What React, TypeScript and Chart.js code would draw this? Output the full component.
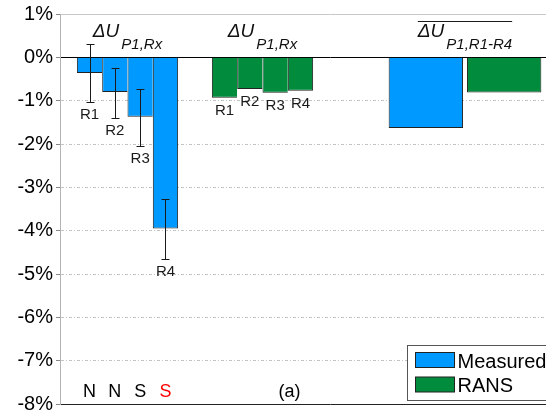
import React, { useEffect, useRef } from 'react';
import { Chart, registerables } from 'chart.js';

Chart.register(...registerables);

// ---- data ----
const groupLabels = ['', 'ΔU P1,Rx measured', '', 'ΔU P1,Rx RANS', '', '', 'ΔU P1,R1-R4 mean', '', ''];
const probeNames = ['R1', 'R2', 'R3', 'R4'];
const measured = [-0.36, -0.8, -1.37, -3.95];
const measuredErrHigh = [0.31, -0.24, -0.73, -3.26];
const measuredErrLow = [-1.03, -1.39, -2.04, -4.66];
const rans = [-0.93, -0.73, -0.82, -0.77];
const measuredMean = -1.63;
const ransMean = -0.81;
const flowLabels = ['N', 'N', 'S', 'S'];
const flowColors = ['#000000', '#000000', '#000000', '#ff0000'];
const groupTitles = [
  { idx: 1, main: 'ΔU', sub: 'P1,Rx', overline: false },
  { idx: 3, main: 'ΔU', sub: 'P1,Rx', overline: false },
  { idx: 6, main: 'ΔU', sub: 'P1,R1-R4', overline: true },
];
const legendItems = ['Measured', 'RANS'];
const Y_MIN = -8;
const Y_MAX = 1;
const Y_STEP = 1;

// ---- layout / style ----
const MEAS_IDX = 1;
const RANS_IDX = 3;
const MEAN_IDX = 6;
const PANEL_TAG_POS = 3.4;
const BLUE = '#0099ff';
const GREEN = '#008c3c';
const EDGE = '#222222';
const FONT = '"Liberation Sans", Arial, Helvetica, sans-serif';

const annotate = {
  id: 'annotate',
  afterDatasetsDraw(chart: any) {
    const { ctx, chartArea, scales } = chart;
    const x = scales.x;
    const y = scales.y;
    ctx.save();
    ctx.lineWidth = 1;
    ctx.strokeStyle = '#1a1a1a';
    ctx.textAlign = 'center';
    ctx.textBaseline = 'alphabetic';
    probeNames.forEach((name, i) => {
      const meta = chart.getDatasetMeta(i);
      const el = meta.data[MEAS_IDX];
      const cx = Math.round(el.x) + 0.5;
      const yh = Math.round(y.getPixelForValue(measuredErrHigh[i])) + 0.5;
      const yl = Math.round(y.getPixelForValue(measuredErrLow[i])) + 0.5;
      ctx.beginPath();
      ctx.moveTo(cx, yh);
      ctx.lineTo(cx, yl);
      ctx.moveTo(cx - 4, yh);
      ctx.lineTo(cx + 4, yh);
      ctx.moveTo(cx - 4, yl);
      ctx.lineTo(cx + 4, yl);
      ctx.stroke();
      ctx.fillStyle = '#1a1a1a';
      ctx.font = '15px ' + FONT;
      ctx.fillText(name, el.x, yl + 16);
      const er = meta.data[RANS_IDX];
      ctx.fillText(name, er.x, er.y + 17);
      ctx.font = '18px ' + FONT;
      ctx.fillStyle = flowColors[i];
      ctx.fillText(flowLabels[i], el.x, chartArea.bottom - 7);
    });
    // panel tag
    ctx.fillStyle = '#000';
    ctx.font = '18px ' + FONT;
    ctx.fillText('(a)', x.getPixelForValue(PANEL_TAG_POS), chartArea.bottom - 7);
    // group titles
    groupTitles.forEach((t) => {
      const cx = x.getPixelForValue(t.idx);
      ctx.font = 'italic 19px ' + FONT;
      const w1 = ctx.measureText(t.main).width;
      ctx.font = 'italic 15px ' + FONT;
      const w2 = ctx.measureText(t.sub).width;
      const total = w1 + 2 + w2;
      const start = cx - total / 2;
      ctx.textAlign = 'left';
      ctx.fillStyle = '#111';
      ctx.font = 'italic 19px ' + FONT;
      ctx.fillText(t.main, start, chartArea.top + 23);
      ctx.font = 'italic 15px ' + FONT;
      ctx.fillText(t.sub, start + w1 + 2, chartArea.top + 35);
      if (t.overline) {
        ctx.beginPath();
        ctx.moveTo(start, chartArea.top + 7.5);
        ctx.lineTo(start + total, chartArea.top + 7.5);
        ctx.stroke();
      }
      ctx.textAlign = 'center';
    });
    ctx.restore();
  },
  afterDraw(chart: any) {
    const { ctx, chartArea } = chart;
    ctx.save();
    const left = 407.5;
    const top = chartArea.bottom - 58.5;
    ctx.fillStyle = '#ffffff';
    ctx.fillRect(left, top, 220, 55);
    ctx.strokeStyle = '#555';
    ctx.lineWidth = 1;
    ctx.strokeRect(left, top, 220, 55);
    const colors = [BLUE, GREEN];
    legendItems.forEach((label, i) => {
      const sy = top + 7 + i * 24.5;
      ctx.fillStyle = colors[i];
      ctx.fillRect(left + 8, sy, 39, 15);
      ctx.strokeStyle = EDGE;
      ctx.strokeRect(left + 8, sy, 39, 15);
      ctx.fillStyle = '#000';
      ctx.font = '20px ' + FONT;
      ctx.textAlign = 'left';
      ctx.textBaseline = 'alphabetic';
      ctx.fillText(label, left + 50, sy + 15);
    });
    ctx.restore();
  },
};

export default function App() {
  const ref = useRef<HTMLCanvasElement>(null);
  useEffect(() => {
    if (!ref.current) return;
    const probeSets = probeNames.map((name, i) => ({
      label: name,
      data: groupLabels.map((_, k) => (k === MEAS_IDX ? measured[i] : k === RANS_IDX ? rans[i] : null)),
      backgroundColor: (c: any) => (c.dataIndex === MEAS_IDX ? BLUE : GREEN),
      borderColor: EDGE,
      borderWidth: { left: 1, right: i === probeNames.length - 1 ? 1 : 0, top: 0, bottom: 1 },
      borderSkipped: false,
      categoryPercentage: 1.5,
      barPercentage: 1,
      skipNull: true,
    }));
    const meanSets = [
      { label: legendItems[0], value: measuredMean, color: BLUE },
      { label: legendItems[1], value: ransMean, color: GREEN },
    ].map((m) => ({
      label: m.label,
      data: groupLabels.map((_, k) => (k === MEAN_IDX ? m.value : null)),
      backgroundColor: m.color,
      borderColor: EDGE,
      borderWidth: 1,
      categoryPercentage: 2.32,
      barPercentage: 0.95,
      skipNull: true,
    }));
    const chart = new Chart(ref.current, {
      type: 'bar',
      data: { labels: groupLabels, datasets: [...probeSets, ...meanSets] as any },
      options: {
        animation: false,
        responsive: false,
        maintainAspectRatio: false,
        layout: { padding: { left: 0, right: 0, top: 14, bottom: 36 } },
        plugins: { legend: { display: false }, tooltip: { enabled: false }, title: { display: false } },
        scales: {
          x: { type: 'category', display: false, offset: false, grid: { display: false } },
          y: {
            min: Y_MIN,
            max: Y_MAX,
            afterFit: (s: any) => {
              s.width = 60;
              s.paddingTop = 0;
              s.paddingBottom = 0;
            },
            ticks: {
              stepSize: Y_STEP,
              padding: 3,
              color: '#000',
              font: { family: FONT, size: 20 },
              callback: (v: any) => `${v}%`,
            },
            border: {
              display: true,
              color: '#b4b4b4',
              width: 1,
              dash: (c: any) => (c.tick && c.tick.value < 0 && c.tick.value > Y_MIN ? [3, 2, 1, 2] : []),
            },
            grid: {
              drawTicks: true,
              tickLength: 4,
              tickColor: '#888',
              color: (c: any) => {
                const v = c.tick ? c.tick.value : null;
                if (v === 0) return '#000';
                if (v === Y_MIN) return '#222';
                if (v === Y_MAX) return '#c8c8c8';
                return '#c4c4c4';
              },
              lineWidth: 1,
            },
          },
        },
      },
      plugins: [annotate],
    });
    return () => chart.destroy();
  }, []);
  return (
    <div
      style={{
        position: 'absolute',
        left: 0,
        top: 0,
        width: 546,
        height: 412,
        overflow: 'hidden',
        background: '#fff',
      }}
    >
      <canvas ref={ref} width={600} height={440} style={{ display: 'block' }} />
    </div>
  );
}
